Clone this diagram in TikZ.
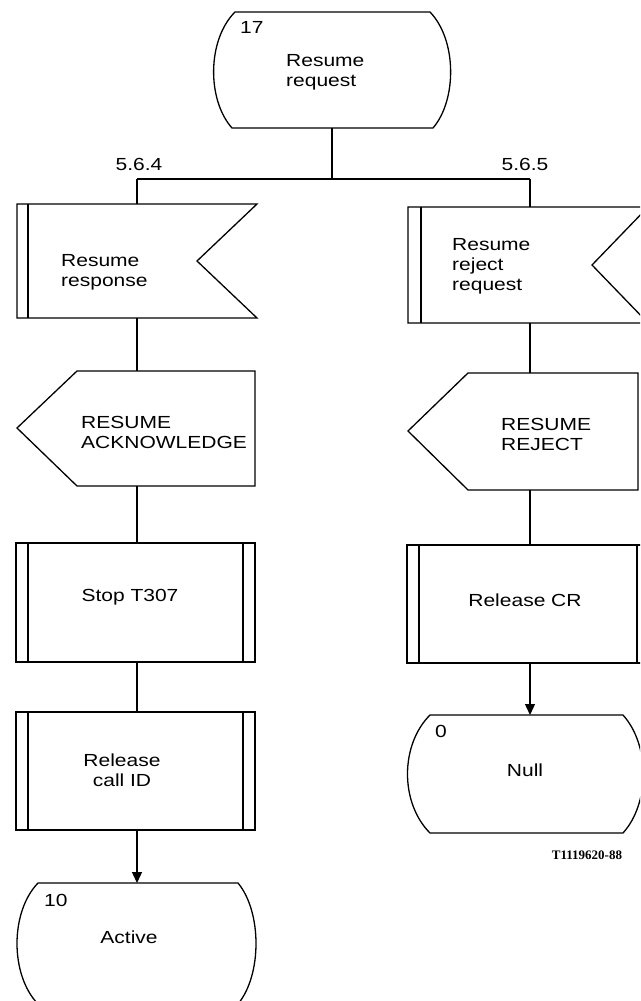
\documentclass[tikz,border=0pt]{standalone}
\usepackage{fontspec}
\setmainfont{Liberation Sans}[FakeStretch=1.2]
\newfontfamily\refserif{Liberation Serif}
\usetikzlibrary{arrows.meta}
\tikzset{
  sym/.style={draw=black, line width=1.3pt, line join=miter},
  thin/.style={draw=black, line width=1.1pt},
  conn/.style={draw=black, line width=1.3pt},
  arr/.style={conn, -{Triangle[length=11pt,width=10pt]}},
  txt/.style={inner sep=0pt, font=\fontsize{17.5}{20}\selectfont},
  txtl/.style={txt, align=left, anchor=west},
  txtc/.style={txt, align=center},
  num/.style={inner sep=0pt, font=\fontsize{17.5}{20}\selectfont, anchor=west},
}
\begin{document}
\begin{tikzpicture}[x=1pt,y=-1pt]
\useasboundingbox (0,0) rectangle (640,1001);
\fill[white] (0,0) rectangle (640,1001);
\clip (0,0) rectangle (640,1001);

% ---------- State 17 ----------
\draw[sym] (235,12) -- (430,12) .. controls (457,40) and (457,100) .. (433,128)
  -- (232,128) .. controls (207,100) and (207,40) .. cycle;
\node[num] (n17) at (240,27) {17};
\node[txtl] (t17) at (286,72) {Resume\\request};
\coordinate (s17b) at (332,128);
\coordinate (br) at (332,179);
\coordinate (brL) at (137,179);
\coordinate (brR) at (530,179);
\node[txtc] (l564) at (139,164) {5.6.4};
\node[txtc] (l565) at (525,164) {5.6.5};

% ---------- Left input: Resume response ----------
\draw[sym] (17,204) -- (257,204) -- (197,261) -- (257,318) -- (17,318) -- cycle;
\draw[thin] (28,204) -- (28,318);
\node[txtl] (tin1) at (61,272) {Resume\\response};
\coordinate (in1t) at (137,204);
\coordinate (in1b) at (137,318);

% ---------- Right input: Resume reject request ----------
\draw[sym] (408,207) -- (648,207) -- (592,265) -- (648,323) -- (408,323) -- cycle;
\draw[thin] (421,207) -- (421,323);
\node[txtl] (tin2) at (452,266) {Resume\\reject\\request};
\coordinate (in2t) at (530,207);
\coordinate (in2b) at (530,323);

% ---------- Left output: RESUME ACKNOWLEDGE ----------
\draw[sym] (77,371) -- (255,371) -- (255,486) -- (77,486) -- (17,428) -- cycle;
\node[txtl] (tout1) at (81,432) {RESUME\\ACKNOWLEDGE};
\coordinate (out1t) at (137,371);
\coordinate (out1b) at (137,486);

% ---------- Right output: RESUME REJECT ----------
\draw[sym] (468,373) -- (638,373) -- (638,490) -- (468,490) -- (408,431) -- cycle;
\node[txtl] (tout2) at (501,434) {RESUME\\REJECT};
\coordinate (out2t) at (530,373);
\coordinate (out2b) at (530,490);

% ---------- Stop T307 ----------
\draw[sym] (16,543) rectangle (255,662);
\draw[thin] (28,543) -- (28,662);
\draw[thin] (243,543) -- (243,662);
\node[txtc] (tp1) at (130,597) {Stop T307};
\coordinate (p1t) at (137,543);
\coordinate (p1b) at (137,662);

% ---------- Release call ID ----------
\draw[sym] (16,712) rectangle (255,830);
\draw[thin] (28,712) -- (28,830);
\draw[thin] (243,712) -- (243,830);
\node[txtc] (tp2) at (122,770) {Release\\call ID};
\coordinate (p2t) at (137,712);
\coordinate (p2b) at (137,830);

% ---------- Release CR ----------
\draw[sym] (407,545) rectangle (649,663);
\draw[thin] (419,545) -- (419,663);
\draw[thin] (637,545) -- (637,663);
\node[txtc] (tp3) at (525,600) {Release CR};
\coordinate (p3t) at (530,545);
\coordinate (p3b) at (530,663);

% ---------- State 10 Active ----------
\draw[sym] (38,883) -- (238,883) .. controls (262,912) and (262,975) .. (238,1004)
  -- (38,1004) .. controls (10,975) and (10,912) .. cycle;
\node[num] (n10) at (44,900) {10};
\node[txtc] (tact) at (129,937) {Active};
\coordinate (s10t) at (137,883);

% ---------- State 0 Null ----------
\draw[sym] (430,715) -- (623,715) .. controls (650,745) and (650,803) .. (623,833)
  -- (430,833) .. controls (400,803) and (400,745) .. cycle;
\node[num] (n0) at (435,731) {0};
\node[txtc] (tnull) at (525,770) {Null};
\coordinate (s0t) at (530,715);

\node[inner sep=0pt, font=\refserif\bfseries\fontsize{13}{15}\selectfont] (ref) at (587,855) {T1119620-88};

% ---------- Connectors ----------
\draw[conn] (s17b) -- (br);
\draw[conn] (brL) -- (brR);
\draw[conn] (brL) -- (in1t);
\draw[conn] (brR) -- (in2t);
\draw[conn] (in1b) -- (out1t);
\draw[conn] (out1b) -- (p1t);
\draw[conn] (p1b) -- (p2t);
\draw[arr] (p2b) -- (s10t);
\draw[conn] (in2b) -- (out2t);
\draw[conn] (out2b) -- (p3t);
\draw[arr] (p3b) -- (s0t);
\end{tikzpicture}
\end{document}
